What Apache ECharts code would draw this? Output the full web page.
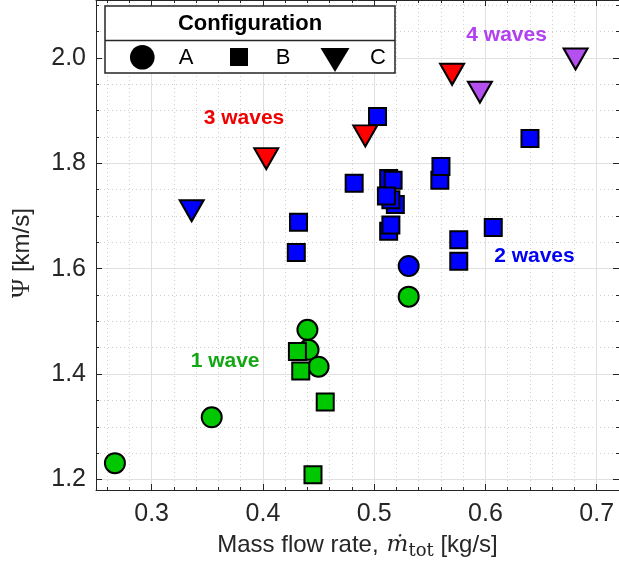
<!DOCTYPE html>
<html><head><meta charset="utf-8">
<script src="https://cdn.jsdelivr.net/npm/echarts@6/dist/echarts.min.js"></script>
<style>html,body{margin:0;padding:0;background:#fff}#c{width:619px;height:565px}</style>
</head><body><div id="c"></div>
<script>
// ---- data ----
const xRange = [0.25, 0.72];
const yRange = [1.18, 2.11];
// Configuration A (circles)
const aX = [0.267, 0.354, 0.441, 0.440, 0.450, 0.531, 0.531];
const aY = [1.231, 1.318, 1.446, 1.484, 1.414, 1.547, 1.605];
const aWaves = [1, 1, 1, 1, 1, 1, 2];
// Configuration B (squares)
const bX = [0.431, 0.434, 0.456, 0.445, 0.503, 0.640, 0.482, 0.513, 0.517, 0.519, 0.515, 0.511, 0.559, 0.560, 0.513, 0.515, 0.607, 0.576, 0.576, 0.432, 0.430];
const bY = [1.443, 1.406, 1.347, 1.209, 1.889, 1.847, 1.762, 1.771, 1.768, 1.722, 1.731, 1.738, 1.768, 1.794, 1.671, 1.683, 1.678, 1.655, 1.614, 1.688, 1.631];
const bWaves = [1, 1, 1, 1, 2, 2, 2, 2, 2, 2, 2, 2, 2, 2, 2, 2, 2, 2, 2, 2, 2];
// Configuration C (triangles)
const cX = [0.336, 0.403, 0.492, 0.570, 0.595, 0.681];
const cY = [1.710, 1.809, 1.852, 1.969, 1.935, 1.998];
const cWaves = [2, 3, 3, 3, 4, 4];
// annotations
const annoText = ['1 wave', '2 waves', '3 waves', '4 waves'];
const annoX = [0.366, 0.644, 0.383, 0.619];
const annoY = [1.425, 1.624, 1.886, 2.043];
const configNames = ['A', 'B', 'C'];

// ---- styles ----
const markerColors = {1: '#00c800', 2: '#0000ff', 3: '#ff0000', 4: '#b450f0'};
const textColors = ['#13a813', '#0000f2', '#f00000', '#b040f0'];
const axisColor = '#262626';
const SANS = '"Liberation Sans", Arial, sans-serif';
const SERIF = '"Liberation Serif", "DejaVu Serif", serif';
const MATH = '"DejaVu Serif", "Liberation Serif", serif';

function pts(xs, ys, ws) {
  return xs.map((x, i) => ({value: [x, ys[i]], itemStyle: {color: markerColors[ws[i]]}}));
}

const chart = echarts.init(document.getElementById('c'), null, {renderer: 'canvas'});

const mainX = {
  type: 'value', min: xRange[0], max: xRange[1], splitNumber: 5, position: 'bottom',
  axisLine: {show: true, onZero: false, lineStyle: {color: axisColor, width: 1}},
  axisTick: {show: true, inside: true, length: 6, lineStyle: {color: axisColor}},
  minorTick: {show: true, splitNumber: 5, length: 3, lineStyle: {color: axisColor}},
  axisLabel: {color: axisColor, fontSize: 25, fontFamily: SANS, margin: 12, showMinLabel: false, showMaxLabel: false},
  splitLine: {show: true, lineStyle: {color: '#e0e0e0', width: 1}},
  minorSplitLine: {show: true, lineStyle: {color: '#cfcfcf', type: [1, 3], width: 1}},
  name: '{a|Mass flow rate,}{m|ṁ}{s|tot}{a| [kg/s]}',
  nameLocation: 'middle', nameGap: 41,
  nameTextStyle: {
    rich: {
      a: {fontSize: 24, fontFamily: SANS, color: axisColor},
      m: {fontSize: 23, fontFamily: MATH, fontStyle: 'italic', color: axisColor, padding: [0, 0, 0, 8]},
      s: {fontSize: 18, fontFamily: MATH, color: axisColor, padding: [11, 0, 0, 0]}
    }
  }
};
const mainY = {
  type: 'value', min: yRange[0], max: yRange[1], splitNumber: 5, position: 'left',
  axisLine: {show: true, onZero: false, lineStyle: {color: axisColor, width: 1}},
  axisTick: {show: true, inside: true, length: 6, lineStyle: {color: axisColor}},
  minorTick: {show: true, splitNumber: 4, length: 3, lineStyle: {color: axisColor}},
  axisLabel: {color: axisColor, fontSize: 25, fontFamily: SANS, margin: 10, showMinLabel: false, showMaxLabel: false,
    formatter: v => v.toFixed(1)},
  splitLine: {show: true, lineStyle: {color: '#e0e0e0', width: 1}},
  minorSplitLine: {show: true, lineStyle: {color: '#cfcfcf', type: [1, 3], width: 1}},
  name: '{p|Ψ}{a| [km/s]}',
  nameLocation: 'middle', nameGap: 61, nameRotate: 90,
  nameTextStyle: {
    padding: [0, 16, 0, 0],
    rich: {
      a: {fontSize: 24, fontFamily: SANS, color: axisColor},
      p: {fontSize: 26, fontFamily: SERIF, color: axisColor}
    }
  }
};
const frameX = {
  type: 'value', min: xRange[0], max: xRange[1], splitNumber: 5, position: 'top',
  axisLine: {show: true, onZero: false, lineStyle: {color: axisColor}},
  axisTick: {show: true, inside: true, length: 6, lineStyle: {color: axisColor}},
  minorTick: {show: true, splitNumber: 5, length: 3, lineStyle: {color: axisColor}},
  axisLabel: {show: false}, splitLine: {show: false}
};
const frameY = {
  type: 'value', min: yRange[0], max: yRange[1], splitNumber: 5, position: 'right',
  axisLine: {show: true, onZero: false, lineStyle: {color: axisColor}},
  axisTick: {show: true, inside: true, length: 6, lineStyle: {color: axisColor}},
  minorTick: {show: true, splitNumber: 4, length: 3, lineStyle: {color: axisColor}},
  axisLabel: {show: false}, splitLine: {show: false}
};

const markerBorder = {borderColor: '#000', borderWidth: 2, opacity: 1};

const option = {
  backgroundColor: '#fff',
  animation: false,
  grid: {left: 96, right: -1.5, top: -2.5, bottom: 75, containLabel: false},
  xAxis: [mainX, frameX],
  yAxis: [mainY, frameY],
  series: [
    {name: configNames[0], type: 'scatter', symbol: 'circle', symbolSize: 20,
      itemStyle: markerBorder, data: pts(aX, aY, aWaves), z: 3},
    {name: configNames[1], type: 'scatter', symbol: 'rect', symbolSize: 17,
      itemStyle: markerBorder, data: pts(bX, bY, bWaves), z: 4},
    {name: configNames[2], type: 'scatter', symbol: 'triangle', symbolRotate: 180, symbolSize: [24, 21],
      itemStyle: markerBorder, data: pts(cX, cY, cWaves), z: 5},
    {name: 'labels', type: 'scatter', symbolSize: 1, itemStyle: {color: 'rgba(0,0,0,0)', opacity: 1}, z: 6, silent: true,
      data: annoText.map((t, i) => ({
        value: [annoX[i], annoY[i]],
        label: {show: true, position: 'inside', formatter: t, color: textColors[i],
          fontSize: 21, fontWeight: 'bold', fontFamily: SANS, opacity: 1}
      }))}
  ],
  graphic: [
    {type: 'rect', shape: {x: 105, y: 6, width: 290, height: 67}, style: {fill: '#fff', stroke: axisColor, lineWidth: 1.5}, z: 10},
    {type: 'line', shape: {x1: 105, y1: 40.5, x2: 395, y2: 40.5}, style: {stroke: axisColor, lineWidth: 1.5}, z: 11},
    {type: 'text', x: 250, y: 24, style: {text: 'Configuration', font: 'bold 22px ' + SANS, fill: '#000', textAlign: 'center', textVerticalAlign: 'middle'}, z: 11},
    {type: 'circle', shape: {cx: 142.3, cy: 57.3, r: 12.3}, style: {fill: '#000'}, z: 11},
    {type: 'text', x: 186, y: 58, style: {text: configNames[0], font: '22px ' + SANS, fill: '#000', textAlign: 'center', textVerticalAlign: 'middle'}, z: 11},
    {type: 'rect', shape: {x: 230, y: 48, width: 18, height: 18}, style: {fill: '#000'}, z: 11},
    {type: 'text', x: 283, y: 58, style: {text: configNames[1], font: '22px ' + SANS, fill: '#000', textAlign: 'center', textVerticalAlign: 'middle'}, z: 11},
    {type: 'polygon', shape: {points: [[320.5, 48], [349.5, 48], [335, 72]]}, style: {fill: '#000'}, z: 11},
    {type: 'text', x: 378, y: 58, style: {text: configNames[2], font: '22px ' + SANS, fill: '#000', textAlign: 'center', textVerticalAlign: 'middle'}, z: 11}
  ]
};
chart.setOption(option);
</script>
</body></html>
